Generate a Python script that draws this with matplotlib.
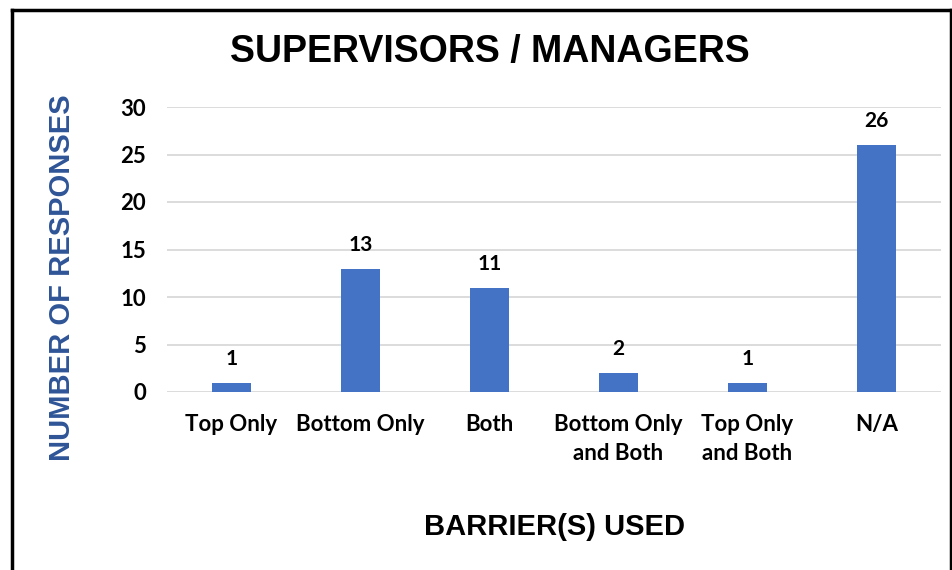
import matplotlib.pyplot as plt

categories = ["Top Only", "Bottom Only", "Both", "Bottom Only\nand Both", "Top Only\nand Both", "N/A"]
responses = [1, 13, 11, 2, 1, 26]
yticks = [0, 5, 10, 15, 20, 25, 30]

fig = plt.figure(figsize=(9.53, 5.70), dpi=100)
ax = fig.add_axes([167 / 953, 1 - 392 / 570, 774 / 953, 285 / 570])

x = range(len(categories))
ax.bar(x, responses, width=0.31, color="#4472C4", zorder=3)
for xi, v in zip(x, responses):
    ax.annotate(str(v), (xi, v), xytext=(0, 10), textcoords="offset points",
                ha="center", va="bottom", fontsize=15, fontweight="bold",
                family="Lato")

ax.set_xlim(-0.5, len(categories) - 0.5)
ax.set_ylim(0, 30)
ax.set_yticks(yticks)
ax.grid(axis="y", color="#D9D9D9", linewidth=1.3, zorder=0)
for s in ax.spines.values():
    s.set_visible(False)
ax.tick_params(length=0)
ax.tick_params(axis="y", pad=15)
ax.tick_params(axis="x", pad=16)
ax.set_xticks(list(x))
ax.set_xticklabels(categories, fontsize=16, fontweight="bold", family="Lato",
                   linespacing=1.45, va="top")
for lbl in ax.get_yticklabels():
    lbl.set_fontsize(16)
    lbl.set_fontweight("bold")
    lbl.set_family("Lato")

fig.text(490 / 953, 1 - 52 / 570, "SUPERVISORS / MANAGERS", ha="center", va="center",
         fontsize=27, fontweight="bold", family="Liberation Sans")
fig.text(62 / 953, 1 - 278 / 570, "NUMBER OF RESPONSES", ha="center", va="center",
         rotation=90, fontsize=21, fontweight="bold", family="Liberation Sans",
         color="#2F5597")
fig.text(554 / 953, 1 - 527 / 570, "BARRIER(S) USED", ha="center", va="center",
         fontsize=21, fontweight="bold", family="Liberation Sans")

# frame around the chart area, open at the bottom edge
fig.add_artist(plt.Line2D([12 / 953, 12 / 953], [0, 1 - 10 / 570], color="black", lw=2.5))
fig.add_artist(plt.Line2D([12 / 953, 951 / 953], [1 - 10 / 570, 1 - 10 / 570], color="black", lw=2.5))
fig.add_artist(plt.Line2D([951 / 953, 951 / 953], [0, 1 - 10 / 570], color="black", lw=2.5))

fig.savefig("out.png", dpi=100)
